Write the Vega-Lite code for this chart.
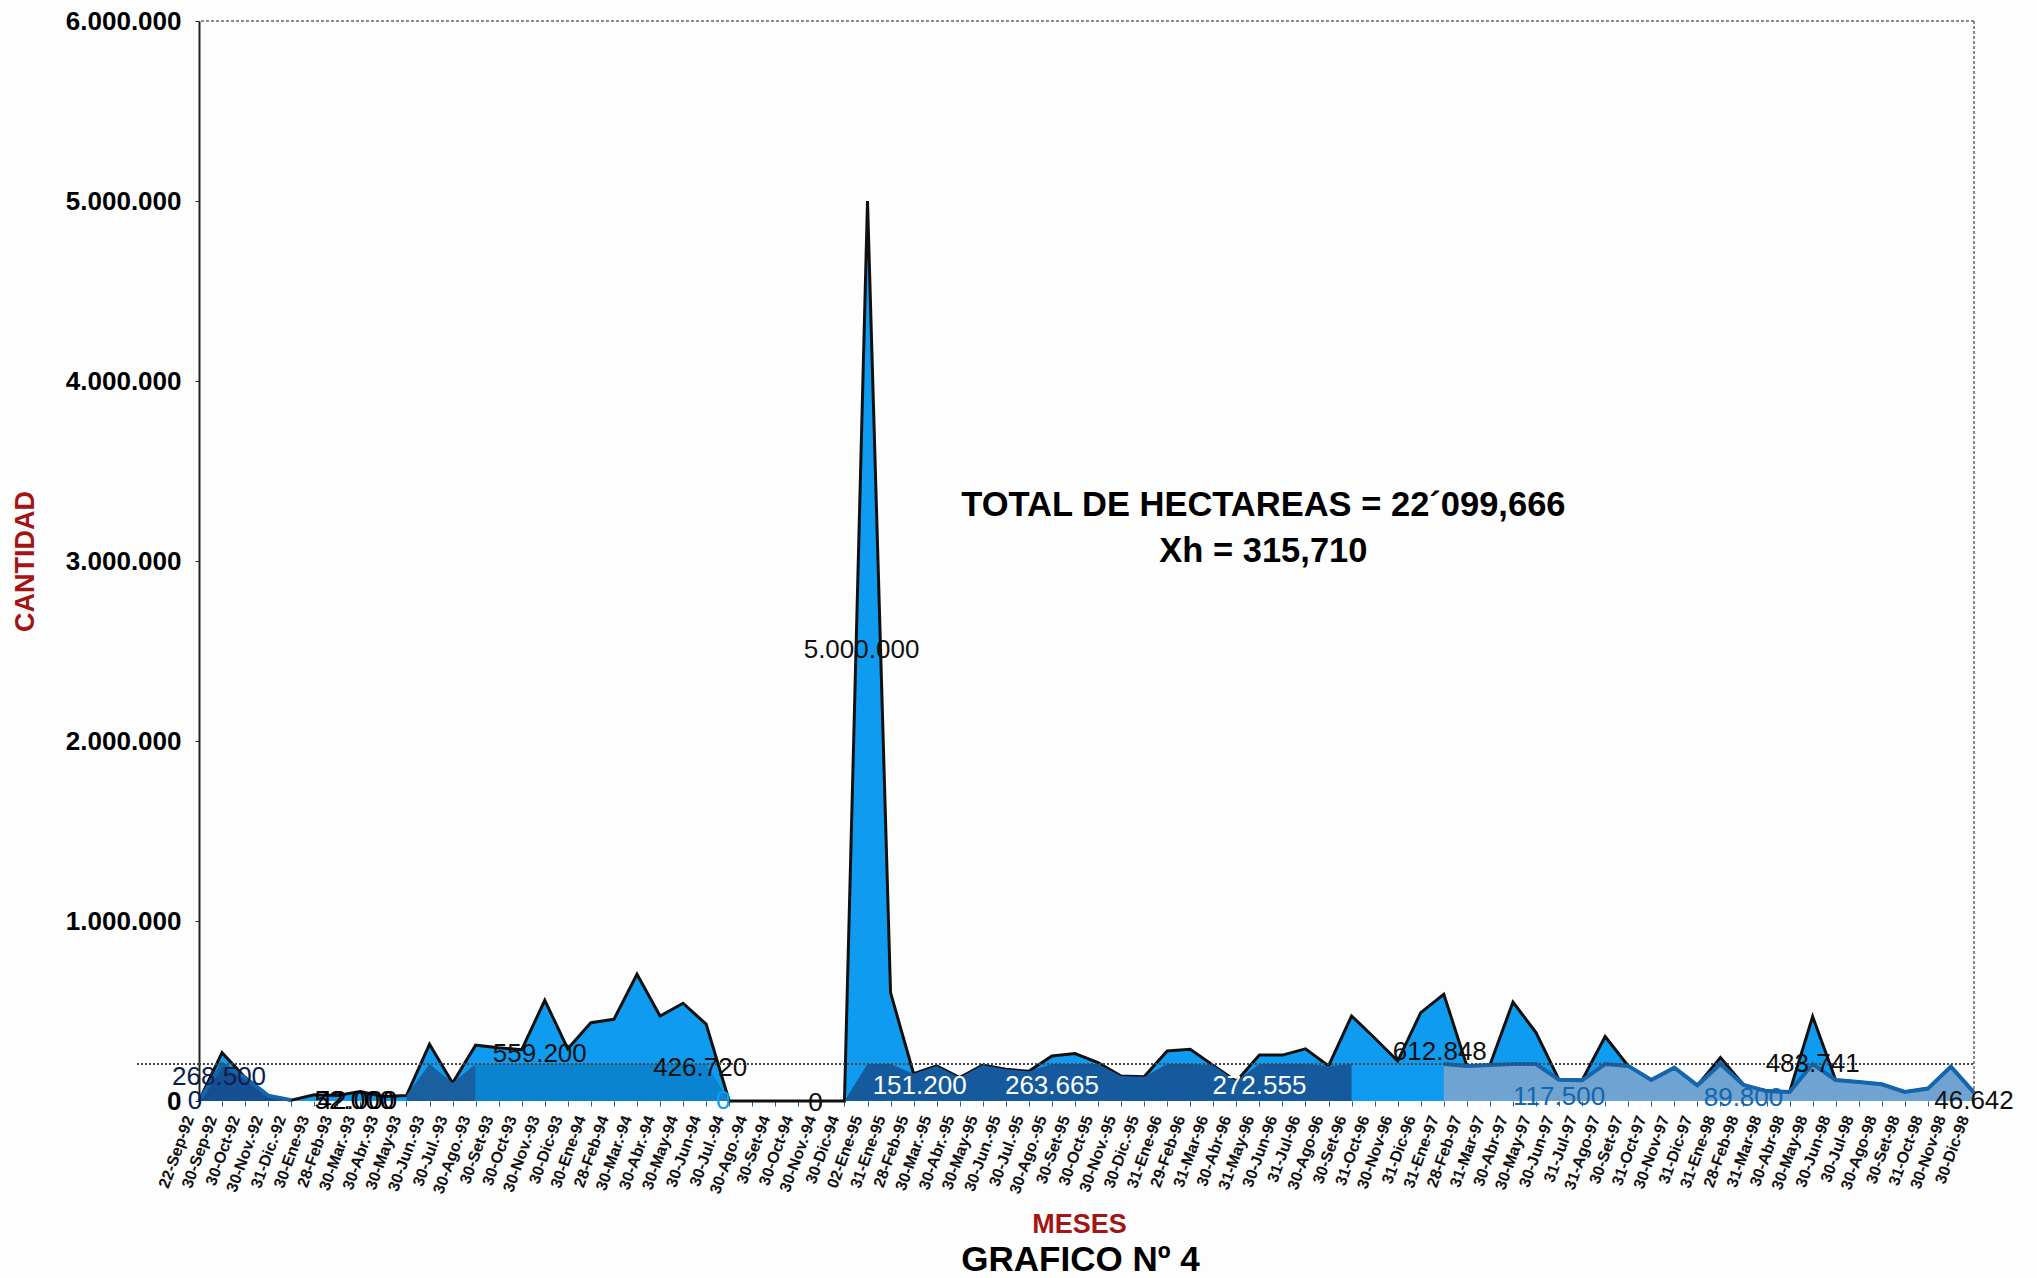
{"$schema":"https://vega.github.io/schema/vega-lite/v6.json","width":1775,"height":1080,"autosize":{"type":"none"},"padding":{"left":199,"top":21,"right":63,"bottom":177},"background":"#fdfdfd","config":{"view":{"stroke":null},"font":"Liberation Sans"},
"data":{"values":[{}]},
"title":{"text":"GRAFICO Nº 4","orient":"bottom","anchor":"middle","font":"Liberation Sans","fontSize":35,"fontWeight":"bold","color":"#000000","offset":5,"dx":-6},
"datasets":{"serie":[
{"fecha":"22-Sep-92","hectareas":0},{"fecha":"30-Sep-92","hectareas":268500},{"fecha":"30-Oct-92","hectareas":130000},{"fecha":"30-Nov.-92","hectareas":30000},{"fecha":"31-Dic.-92","hectareas":5000},{"fecha":"30-Ene-93","hectareas":35000},{"fecha":"28-Feb-93","hectareas":30000},{"fecha":"30-Mar.-93","hectareas":52000},{"fecha":"30-Abr.-93","hectareas":25000},{"fecha":"30-May-93","hectareas":30000},{"fecha":"30-Jun.-93","hectareas":315000},{"fecha":"30-Jul.-93","hectareas":100000},{"fecha":"30-Ago.-93","hectareas":310000},{"fecha":"30-Set-93","hectareas":296000},{"fecha":"30-Oct-93","hectareas":285000},{"fecha":"30-Nov.-93","hectareas":559200},{"fecha":"30-Dic-93","hectareas":290000},{"fecha":"30-Ene-94","hectareas":435000},{"fecha":"28-Feb-94","hectareas":454000},{"fecha":"30-Mar.-94","hectareas":704000},{"fecha":"30-Abr.-94","hectareas":472000},{"fecha":"30-May-94","hectareas":543000},{"fecha":"30-Jun-94","hectareas":426720},{"fecha":"30-Jul.-94","hectareas":0},{"fecha":"30-Ago.-94","hectareas":0},{"fecha":"30-Set-94","hectareas":0},{"fecha":"30-Oct-94","hectareas":0},{"fecha":"30-Nov.-94","hectareas":0},{"fecha":"30-Dic-94","hectareas":0},{"fecha":"02-Ene-95","hectareas":5000000},{"fecha":"31-Ene-95","hectareas":602000},{"fecha":"28-Feb-95","hectareas":151200},{"fecha":"30-Mar.-95","hectareas":195000},{"fecha":"30-Abr.-95","hectareas":130000},{"fecha":"30-May-95","hectareas":200000},{"fecha":"30-Jun.-95","hectareas":176000},{"fecha":"30-Jul.-95","hectareas":165000},{"fecha":"30-Ago.-95","hectareas":250000},{"fecha":"30-Set-95","hectareas":263665},{"fecha":"30-Oct-95","hectareas":213000},{"fecha":"30-Nov.-95","hectareas":139000},{"fecha":"30-Dic.-95","hectareas":135000},{"fecha":"31-Ene-96","hectareas":278000},{"fecha":"29-Feb-96","hectareas":287000},{"fecha":"31-Mar-96","hectareas":198000},{"fecha":"30-Abr-96","hectareas":110000},{"fecha":"31-May-96","hectareas":255000},{"fecha":"30-Jun-96","hectareas":255000},{"fecha":"31-Jul-96","hectareas":290000},{"fecha":"30-Ago-96","hectareas":195000},{"fecha":"30-Set-96","hectareas":472555},{"fecha":"31-Oct-96","hectareas":350000},{"fecha":"30-Nov-96","hectareas":222000},{"fecha":"31-Dic-96","hectareas":491000},{"fecha":"31-Ene-97","hectareas":593000},{"fecha":"28-Feb-97","hectareas":195000},{"fecha":"31-Mar-97","hectareas":200000},{"fecha":"30-Abr-97","hectareas":550000},{"fecha":"30-May-97","hectareas":380000},{"fecha":"30-Jun-97","hectareas":117500},{"fecha":"31-Jul-97","hectareas":115000},{"fecha":"31-Ago-97","hectareas":358000},{"fecha":"30-Set-97","hectareas":195000},{"fecha":"31-Oct-97","hectareas":117000},{"fecha":"30-Nov-97","hectareas":185000},{"fecha":"31-Dic-97","hectareas":87000},{"fecha":"31-Ene-98","hectareas":241000},{"fecha":"28-Feb-98","hectareas":89800},{"fecha":"31-Mar-98","hectareas":55000},{"fecha":"30-Abr-98","hectareas":50000},{"fecha":"30-May-98","hectareas":469000},{"fecha":"30-Jun-98","hectareas":117000},{"fecha":"30-Jul-98","hectareas":105000},{"fecha":"30-Ago-98","hectareas":93000},{"fecha":"30-Set-98","hectareas":50000},{"fecha":"31-Oct-98","hectareas":69000},{"fecha":"30-Nov-98","hectareas":191000},{"fecha":"30-Dic-98","hectareas":46642}],
"franja":[
{"fecha":"22-Sep-92","tramo":"A","v":0},{"fecha":"30-Sep-92","tramo":"A","v":205000},{"fecha":"30-Oct-92","tramo":"A","v":130000},{"fecha":"30-Nov.-92","tramo":"A","v":30000},{"fecha":"31-Dic.-92","tramo":"A","v":5000},
{"fecha":"30-May-93","tramo":"B","v":30000},{"fecha":"30-Jun.-93","tramo":"B","v":205000},{"fecha":"30-Jul.-93","tramo":"B","v":100000},{"fecha":"30-Ago.-93","tramo":"B","v":205000},
{"fecha":"30-Ago.-93","tramo":"C","v":205000},{"fecha":"30-Set-93","tramo":"C","v":205000},{"fecha":"30-Oct-93","tramo":"C","v":205000},{"fecha":"30-Nov.-93","tramo":"C","v":205000},{"fecha":"30-Dic-93","tramo":"C","v":205000},{"fecha":"30-Ene-94","tramo":"C","v":205000},{"fecha":"28-Feb-94","tramo":"C","v":205000},{"fecha":"30-Mar.-94","tramo":"C","v":205000},{"fecha":"30-Abr.-94","tramo":"C","v":205000},{"fecha":"30-May-94","tramo":"C","v":205000},{"fecha":"30-Jun-94","tramo":"C","v":205000},{"fecha":"30-Jul.-94","tramo":"C","v":0},
{"fecha":"30-Dic-94","tramo":"D","v":0},{"fecha":"02-Ene-95","tramo":"D","v":205000},{"fecha":"31-Ene-95","tramo":"D","v":205000},{"fecha":"28-Feb-95","tramo":"D","v":151200},{"fecha":"30-Mar.-95","tramo":"D","v":195000},{"fecha":"30-Abr.-95","tramo":"D","v":130000},{"fecha":"30-May-95","tramo":"D","v":200000},{"fecha":"30-Jun.-95","tramo":"D","v":176000},{"fecha":"30-Jul.-95","tramo":"D","v":165000},{"fecha":"30-Ago.-95","tramo":"D","v":205000},{"fecha":"30-Set-95","tramo":"D","v":205000},{"fecha":"30-Oct-95","tramo":"D","v":205000},{"fecha":"30-Nov.-95","tramo":"D","v":139000},{"fecha":"30-Dic.-95","tramo":"D","v":135000},{"fecha":"31-Ene-96","tramo":"D","v":205000},{"fecha":"29-Feb-96","tramo":"D","v":205000},{"fecha":"31-Mar-96","tramo":"D","v":198000},{"fecha":"30-Abr-96","tramo":"D","v":110000},{"fecha":"31-May-96","tramo":"D","v":205000},{"fecha":"30-Jun-96","tramo":"D","v":205000},{"fecha":"31-Jul-96","tramo":"D","v":205000},{"fecha":"30-Ago-96","tramo":"D","v":195000},{"fecha":"30-Set-96","tramo":"D","v":205000},
{"fecha":"31-Ene-97","tramo":"F","v":205000},{"fecha":"28-Feb-97","tramo":"F","v":195000},{"fecha":"31-Mar-97","tramo":"F","v":200000},{"fecha":"30-Abr-97","tramo":"F","v":205000},{"fecha":"30-May-97","tramo":"F","v":205000},{"fecha":"30-Jun-97","tramo":"F","v":117500},{"fecha":"31-Jul-97","tramo":"F","v":115000},{"fecha":"31-Ago-97","tramo":"F","v":205000},{"fecha":"30-Set-97","tramo":"F","v":195000},{"fecha":"31-Oct-97","tramo":"F","v":117000},{"fecha":"30-Nov-97","tramo":"F","v":185000},{"fecha":"31-Dic-97","tramo":"F","v":87000},{"fecha":"31-Ene-98","tramo":"F","v":205000},{"fecha":"28-Feb-98","tramo":"F","v":89800},{"fecha":"31-Mar-98","tramo":"F","v":55000},{"fecha":"30-Abr-98","tramo":"F","v":50000},{"fecha":"30-May-98","tramo":"F","v":205000},{"fecha":"30-Jun-98","tramo":"F","v":117000},{"fecha":"30-Jul-98","tramo":"F","v":105000},{"fecha":"30-Ago-98","tramo":"F","v":93000},{"fecha":"30-Set-98","tramo":"F","v":50000},{"fecha":"31-Oct-98","tramo":"F","v":69000},{"fecha":"30-Nov-98","tramo":"F","v":191000},{"fecha":"30-Dic-98","tramo":"F","v":46642}]},
"layer":[
{"data":{"name":"serie"},"mark":{"type":"area","color":"#0f9cf0","line":false},"encoding":{
"x":{"field":"fecha","type":"ordinal","title":"MESES","sort":null,"scale":{"type":"point","padding":0,"domain":["22-Sep-92","30-Sep-92","30-Oct-92","30-Nov.-92","31-Dic.-92","30-Ene-93","28-Feb-93","30-Mar.-93","30-Abr.-93","30-May-93","30-Jun.-93","30-Jul.-93","30-Ago.-93","30-Set-93","30-Oct-93","30-Nov.-93","30-Dic-93","30-Ene-94","28-Feb-94","30-Mar.-94","30-Abr.-94","30-May-94","30-Jun-94","30-Jul.-94","30-Ago.-94","30-Set-94","30-Oct-94","30-Nov.-94","30-Dic-94","02-Ene-95","31-Ene-95","28-Feb-95","30-Mar.-95","30-Abr.-95","30-May-95","30-Jun.-95","30-Jul.-95","30-Ago.-95","30-Set-95","30-Oct-95","30-Nov.-95","30-Dic.-95","31-Ene-96","29-Feb-96","31-Mar-96","30-Abr-96","31-May-96","30-Jun-96","31-Jul-96","30-Ago-96","30-Set-96","31-Oct-96","30-Nov-96","31-Dic-96","31-Ene-97","28-Feb-97","31-Mar-97","30-Abr-97","30-May-97","30-Jun-97","31-Jul-97","31-Ago-97","30-Set-97","31-Oct-97","30-Nov-97","31-Dic-97","31-Ene-98","28-Feb-98","31-Mar-98","30-Abr-98","30-May-98","30-Jun-98","30-Jul-98","30-Ago-98","30-Set-98","31-Oct-98","30-Nov-98","30-Dic-98"]},
"axis":{"labelAngle":-70,"labelAlign":"right","labelBaseline":"middle","labelFont":"Liberation Sans","labelFontSize":16,"labelFontWeight":"bold","labelColor":"#111111","labelOverlap":false,"labelPadding":10,"labelOffset":-10,"tickColor":"#1565ad","tickSize":5,"domain":false,"grid":false,"titleColor":"#a31515","titleFont":"Liberation Sans","titleFontSize":27,"titleFontWeight":"bold","titlePadding":16,"titleX":880}},
"y":{"field":"hectareas","type":"quantitative","title":"CANTIDAD","stack":null,"scale":{"domain":[0,6000000],"nice":false},
"axis":{"values":[0,1000000,2000000,3000000,4000000,5000000,6000000],"labelExpr":"replace(format(datum.value,','),/,/g,'.')","labelFont":"Liberation Sans","labelFontSize":26,"labelFontWeight":"bold","labelColor":"#000000","labelPadding":14,"tickColor":"#222222","tickSize":4,"domainColor":"#222222","domainWidth":2,"grid":false,"titleColor":"#a31515","titleFont":"Liberation Sans","titleFontSize":27,"titleFontWeight":"bold","titlePadding":26}}}},
{"data":{"name":"serie"},"mark":{"type":"line","color":"#101010","strokeWidth":3},"encoding":{"x":{"field":"fecha","type":"ordinal","sort":null},"y":{"field":"hectareas","type":"quantitative"}}},
{"data":{"name":"franja"},"mark":{"type":"area"},"encoding":{"x":{"field":"fecha","type":"ordinal","sort":null},"y":{"field":"v","type":"quantitative","stack":null},"color":{"field":"tramo","type":"nominal","legend":null,"scale":{"domain":["A","B","C","D","F"],"range":["#144f93","#1a5f9f","#0a84d0","#155a9c","#6fa3d2"]}}}},
{"data":{"name":"franja"},"transform":[{"filter":"datum.tramo==='F' || datum.tramo==='A'"}],"mark":{"type":"line","color":"#1565ad","strokeWidth":4},"encoding":{"x":{"field":"fecha","type":"ordinal","sort":null},"y":{"field":"v","type":"quantitative"},"detail":{"field":"tramo"}}},
{"mark":{"type":"rule","color":"#444444","strokeWidth":2,"strokeDash":[2,2]},"encoding":{"x":{"datum":"22-Sep-92"},"x2":{"datum":"30-Dic-98"},"y":{"datum":205000}}},
{"mark":{"type":"rule","color":"#444444","strokeWidth":2,"strokeDash":[2,2],"x2Offset":-62},"encoding":{"x":{"datum":"22-Sep-92"},"x2":{"datum":"22-Sep-92"},"y":{"datum":205000}}},
{"mark":{"type":"rule","color":"#666666","strokeWidth":1.5,"strokeDash":[3,2]},"encoding":{"y":{"datum":6000000}}},
{"mark":{"type":"rule","color":"#666666","strokeWidth":1.5,"strokeDash":[3,2]},"encoding":{"x":{"datum":"30-Dic-98"}}},
{"mark":{"type":"text","font":"Liberation Sans","fontSize":34.5,"fontWeight":"bold","color":"#000000","dx":4},"encoding":{"x":{"datum":"31-May-96"},"y":{"datum":3305000},"text":{"value":"TOTAL DE HECTAREAS = 22´099,666"}}},
{"mark":{"type":"text","font":"Liberation Sans","fontSize":34.5,"fontWeight":"bold","color":"#000000","dx":4},"encoding":{"x":{"datum":"31-May-96"},"y":{"datum":3050000},"text":{"value":"Xh = 315,710"}}},
{"mark":{"type":"text","font":"Liberation Sans","fontSize":26,"color":"#111111","dx":-6},"encoding":{"x":{"datum":"02-Ene-95"},"y":{"datum":2505000},"text":{"value":"5.000.000"}}},
{"mark":{"type":"text","font":"Liberation Sans","fontSize":26,"color":"#0a1f4d","dx":-3},"encoding":{"x":{"datum":"30-Sep-92"},"y":{"datum":135000},"text":{"value":"268.500"}}},
{"mark":{"type":"text","font":"Liberation Sans","fontSize":26,"color":"#0a1f4d","dx":-4},"encoding":{"x":{"datum":"22-Sep-92"},"y":{"datum":0},"text":{"value":"0"}}},
{"mark":{"type":"text","font":"Liberation Sans","fontSize":26,"color":"#000000","dx":-6},"encoding":{"x":{"datum":"30-Mar.-93"},"y":{"datum":0},"text":{"value":"52.000"}}},
{"mark":{"type":"text","font":"Liberation Sans","fontSize":26,"color":"#000000","dx":-3},"encoding":{"x":{"datum":"30-Mar.-93"},"y":{"datum":0},"text":{"value":"42.000"}}},
{"mark":{"type":"text","font":"Liberation Sans","fontSize":26,"color":"#111111","dx":-5},"encoding":{"x":{"datum":"30-Nov.-93"},"y":{"datum":260000},"text":{"value":"559.200"}}},
{"mark":{"type":"text","font":"Liberation Sans","fontSize":26,"color":"#111111","dx":-6},"encoding":{"x":{"datum":"30-Jun-94"},"y":{"datum":185000},"text":{"value":"426.720"}}},
{"mark":{"type":"text","font":"Liberation Sans","fontSize":26,"color":"#0f9cf0","dx":-6},"encoding":{"x":{"datum":"30-Jul.-94"},"y":{"datum":0},"text":{"value":"0"}}},
{"mark":{"type":"text","font":"Liberation Sans","fontSize":26,"color":"#111111","dx":-6},"encoding":{"x":{"datum":"30-Nov.-94"},"y":{"datum":-10000},"text":{"value":"0"}}},
{"mark":{"type":"text","font":"Liberation Sans","fontSize":26,"color":"#ffffff","dx":6},"encoding":{"x":{"datum":"28-Feb-95"},"y":{"datum":85000},"text":{"value":"151.200"}}},
{"mark":{"type":"text","font":"Liberation Sans","fontSize":26,"color":"#ffffff"},"encoding":{"x":{"datum":"30-Ago.-95"},"y":{"datum":85000},"text":{"value":"263.665"}}},
{"mark":{"type":"text","font":"Liberation Sans","fontSize":26,"color":"#ffffff"},"encoding":{"x":{"datum":"31-May-96"},"y":{"datum":85000},"text":{"value":"272.555"}}},
{"mark":{"type":"text","font":"Liberation Sans","fontSize":26,"color":"#111111","dx":-4},"encoding":{"x":{"datum":"31-Ene-97"},"y":{"datum":270000},"text":{"value":"612.848"}}},
{"mark":{"type":"text","font":"Liberation Sans","fontSize":26,"color":"#1565ad"},"encoding":{"x":{"datum":"30-Jun-97"},"y":{"datum":25000},"text":{"value":"117.500"}}},
{"mark":{"type":"text","font":"Liberation Sans","fontSize":26,"color":"#1565ad"},"encoding":{"x":{"datum":"28-Feb-98"},"y":{"datum":15000},"text":{"value":"89.800"}}},
{"mark":{"type":"text","font":"Liberation Sans","fontSize":26,"color":"#111111"},"encoding":{"x":{"datum":"30-May-98"},"y":{"datum":205000},"text":{"value":"483.741"}}},
{"mark":{"type":"text","font":"Liberation Sans","fontSize":26,"color":"#111111"},"encoding":{"x":{"datum":"30-Dic-98"},"y":{"datum":0},"text":{"value":"46.642"}}}
]}
